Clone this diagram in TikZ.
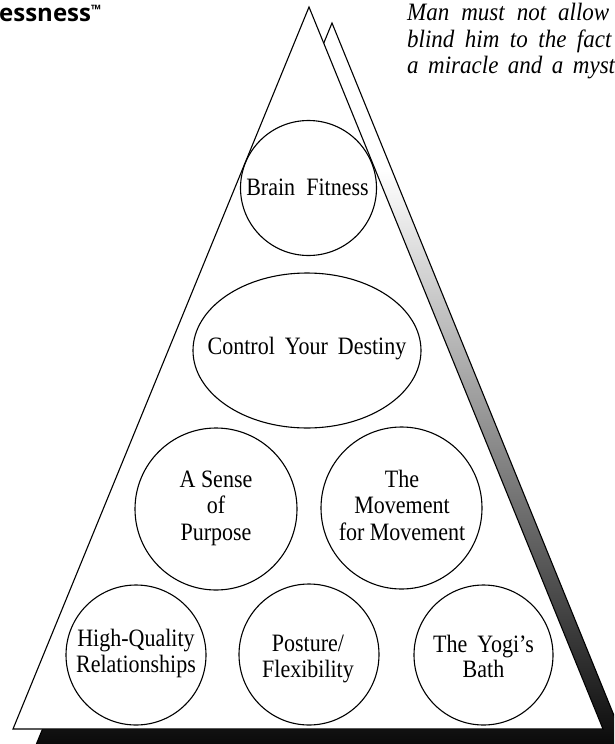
\documentclass[tikz,border=0pt]{standalone}
\usepackage{fontspec}
\setmainfont{Liberation Serif}[FakeStretch=0.88]
\newfontfamily\quotefont{Liberation Serif}[FakeStretch=0.92]
\newfontfamily\headfont{Open Sans}
\usetikzlibrary{shapes.geometric}
\tikzset{
  outline/.style={draw=black, line width=1.1pt, line join=miter},
  bubble/.style={ellipse, draw=black, line width=1.1pt, inner sep=0pt},
  txt/.style={anchor=base, inner sep=0pt, font=\fontsize{25pt}{26pt}\selectfont},
  quote/.style={anchor=base west, inner sep=0pt, font=\quotefont\itshape\fontsize{25pt}{26pt}\selectfont},
  head/.style={anchor=base west, inner sep=0pt, font=\headfont\bfseries\fontsize{24pt}{24pt}\selectfont},
}
\begin{document}
\begin{tikzpicture}[x=1pt,y=-1pt]
\useasboundingbox (0,0) rectangle (614,744);
\clip (0,0) rectangle (614,744);
% back (shadow) triangle
\coordinate (bA) at (332,23);
\coordinate (bL) at (36,745);
\coordinate (bR) at (626,745);
\begin{scope}
  \clip (bA) -- (bL) -- (bR) -- cycle;
  \fill[white] (0,0) rectangle (640,760);
  \shade[top color=white, bottom color=black] (0,170) rectangle (640,770);
\end{scope}
\draw[outline] (bA) -- (bL) -- (bR) -- cycle;
% main triangle
\coordinate (mA) at (309,7);
\coordinate (mL) at (13,729);
\coordinate (mR) at (603,729);
\filldraw[outline, fill=white] (mA) -- (mL) -- (mR) -- cycle;
% bubbles
\node[bubble, minimum width=136pt, minimum height=135pt] (brain) at (308.5,188) {};
\node[bubble, minimum width=228pt, minimum height=155pt] (destiny) at (307,350.5) {};
\node[bubble, minimum width=162pt, minimum height=162pt] (purpose) at (216,509) {};
\node[bubble, minimum width=161pt, minimum height=162pt] (movement) at (401.5,508) {};
\node[bubble, minimum width=140pt, minimum height=140pt] (relations) at (136,655) {};
\node[bubble, minimum width=140pt, minimum height=141pt] (posture) at (309,654.5) {};
\node[bubble, minimum width=139pt, minimum height=140pt] (yogi) at (483.5,655) {};
% texts
\node[txt] (brainT) at (307.5,195) {Brain\hspace{0.45em}Fitness};
\node[txt] (destinyT) at (307,354) {Control\hspace{0.4em}Your\hspace{0.4em}Destiny};
\node[txt] (purposeT1) at (216,487) {A Sense};
\node[txt] (purposeT2) at (216,513) {of};
\node[txt] (purposeT3) at (216,540) {Purpose};
\node[txt] (movementT1) at (402,487) {The};
\node[txt] (movementT2) at (402,513) {Movement};
\node[txt] (movementT3) at (402,540) {for Movement};
\node[txt] (relationsT1) at (136,646) {High-Quality};
\node[txt] (relationsT2) at (136,672) {Relationships};
\node[txt] (postureT1) at (308,651) {Posture/};
\node[txt] (postureT2) at (308,677) {Flexibility};
\node[txt] (yogiT1) at (483.5,652) {The\hspace{0.4em}Yogi’s};
\node[txt] (yogiT2) at (483.5,677) {Bath};
% header and quote
\node[head] (head) at (-1,21) {essness\raisebox{7pt}{\fontsize{13pt}{13pt}\selectfont ™}};
\node[quote] (q1) at (407,20) {\spaceskip=12pt Man must not allow};
\node[quote] (q2) at (407,47) {\spaceskip=10.5pt blind him to the fact};
\node[quote] (q3) at (407,73) {\spaceskip=9.5pt a miracle and a myst};
\end{tikzpicture}
\end{document}
